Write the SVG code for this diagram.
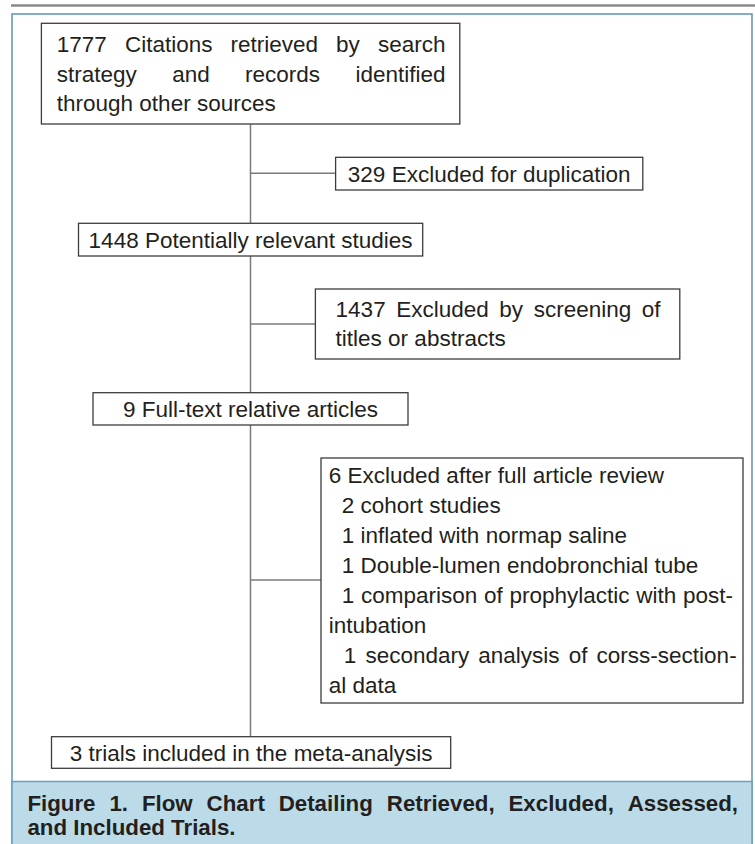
<svg xmlns="http://www.w3.org/2000/svg" width="755" height="844" viewBox="0 0 755 844">
<style>
.t{font-family:"Liberation Sans",Arial,sans-serif;font-size:22.5px;fill:#231f20}
.c{text-anchor:middle}
.e{text-anchor:end}
.box{fill:#fff;stroke:#3c3c3c;stroke-width:1.3}
.ln{stroke:#7a7a7a;stroke-width:1.5;fill:none}
.cap{font-family:"Liberation Sans",Arial,sans-serif;font-size:22.3px;font-weight:bold;fill:#231f20}
</style>
<rect x="0" y="0" width="755" height="844" fill="#fff"/>
<line x1="11" y1="5.5" x2="755" y2="5.5" stroke="#8a8a8a" stroke-width="2.5"/>
<rect x="12" y="14" width="740" height="840" fill="#fff" stroke="#5b93b8" stroke-width="1.5"/>
<rect x="12" y="781.5" width="740" height="70" fill="#bcdbe8" stroke="#6b9fc0" stroke-width="1.5"/>

<g id="connectors">
<line class="ln" x1="250.5" y1="124" x2="250.5" y2="223.3"/>
<line class="ln" x1="250.5" y1="256" x2="250.5" y2="392.7"/>
<line class="ln" x1="250.5" y1="425" x2="250.5" y2="736.7"/>
<line class="ln" x1="250.5" y1="173.3" x2="335.6" y2="173.3"/>
<line class="ln" x1="250.5" y1="324" x2="315.4" y2="324"/>
<line class="ln" x1="250.5" y1="580" x2="321" y2="580"/>
</g>

<g id="n1">
<rect class="box" x="41.4" y="23.3" width="418.4" height="100.7"/>
<text class="t" y="51.7"><tspan x="56.8">1777</tspan><tspan x="124.9">Citations</tspan><tspan x="230.5">retrieved</tspan><tspan x="336.1">by</tspan><tspan x="378">search</tspan></text>
<text class="t" y="81.5"><tspan x="56.8">strategy</tspan><tspan x="172.2">and</tspan><tspan x="245.1">records</tspan><tspan x="355.5">identified</tspan></text>
<text class="t" x="56.8" y="111">through other sources</text>
</g>

<g id="n2">
<rect class="box" x="335.6" y="157.3" width="307.2" height="32.7"/>
<text class="t c" x="489.2" y="181.6">329 Excluded for duplication</text>
</g>

<g id="n3">
<rect class="box" x="78.5" y="223.3" width="344.2" height="32.7"/>
<text class="t c" x="250.6" y="247.7">1448 Potentially relevant studies</text>
</g>

<g id="n4">
<rect class="box" x="315.4" y="289" width="364.4" height="70"/>
<text class="t" y="317"><tspan x="335.6">1437</tspan><tspan x="396.2">Excluded</tspan><tspan x="499.3">by</tspan><tspan x="533.7">screening</tspan><tspan x="641.8">of</tspan></text>
<text class="t" x="335.6" y="346.3">titles or abstracts</text>
</g>

<g id="n5">
<rect class="box" x="93" y="392.7" width="315" height="32.3"/>
<text class="t c" x="250.5" y="416.8">9 Full-text relative articles</text>
</g>

<g id="n6">
<rect class="box" x="321" y="458" width="422" height="245"/>
<text class="t" x="328.8" y="483">6 Excluded after full article review</text>
<text class="t" x="341.8" y="513">2 cohort studies</text>
<text class="t" x="341.8" y="543">1 inflated with normap saline</text>
<text class="t" x="341.8" y="573">1 Double-lumen endobronchial tube</text>
<text class="t" y="603"><tspan x="341.8">1</tspan><tspan x="361">comparison</tspan><tspan x="484">of</tspan><tspan x="509.5">prophylactic</tspan><tspan x="636.2">with</tspan><tspan x="682.9">post-</tspan></text>
<text class="t" x="328.8" y="633">intubation</text>
<text class="t" y="663"><tspan x="343.8">1</tspan><tspan x="365.4">secondary</tspan><tspan x="478.3">analysis</tspan><tspan x="568.7">of</tspan><tspan x="596.6">corss-section-</tspan></text>
<text class="t" x="328.8" y="693">al data</text>
</g>

<g id="n7">
<rect class="box" x="51.5" y="736.7" width="399.2" height="31.6"/>
<text class="t c" x="251.1" y="760.5">3 trials included in the meta-analysis</text>
</g>

<g id="caption">
<text class="cap" y="811"><tspan x="27.4">Figure</tspan><tspan x="109.4">1.</tspan><tspan x="141.9">Flow</tspan><tspan x="206.6">Chart</tspan><tspan x="278.7">Detailing</tspan><tspan x="386.8">Retrieved,</tspan><tspan x="508.5">Excluded,</tspan><tspan x="627.7">Assessed,</tspan></text>
<text class="cap" x="27.4" y="835">and Included Trials.</text>
</g>
</svg>
